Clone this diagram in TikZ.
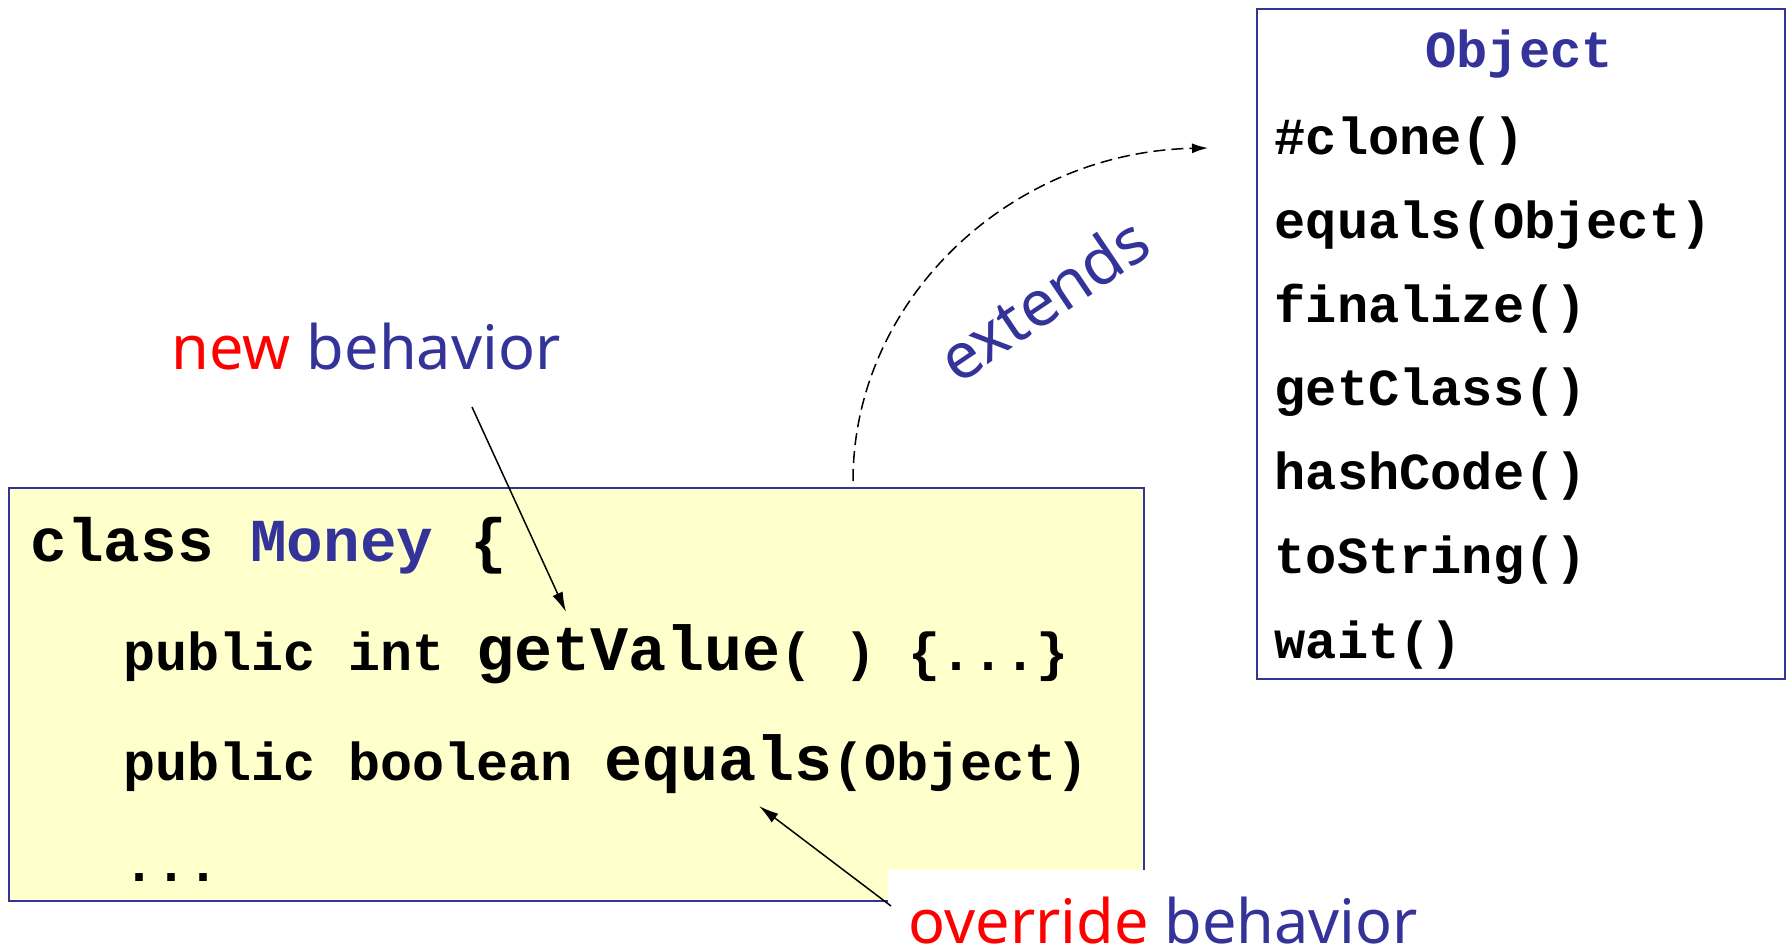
\documentclass[tikz,border=0pt]{standalone}
\usepackage{fontspec}
\setmainfont{Noto Sans}
\setmonofont{Liberation Mono}
\usetikzlibrary{arrows.meta}
\definecolor{slateblue}{RGB}{51,51,153}
\definecolor{paleyellow}{RGB}{255,255,204}

\begin{document}
\begin{tikzpicture}[x=0.5pt,y=-0.5pt,>={Latex[length=10pt,width=5.5pt]},line width=0.75pt,
    classbox/.style={draw=slateblue,line width=1pt,anchor=north west,inner sep=0pt},
    code/.style={anchor=base west,inner sep=0pt,font=\ttfamily\bfseries\fontsize{26.7}{30}\selectfont},
    member/.style={anchor=base west,inner sep=0pt,font=\ttfamily\bfseries\fontsize{26}{30}\selectfont},
    note/.style={inner sep=0pt,font=\fontsize{30.6}{34}\selectfont}]
  \useasboundingbox (0,0) rectangle (1787,951);

  % class Money
  \node[classbox,fill=paleyellow,minimum width=567.5pt,minimum height=206.5pt] (money) at (8,487) {};
  \node[code,font=\ttfamily\bfseries\fontsize{30.5}{34}\selectfont] (head) at (30,561) {class \textcolor{slateblue}{Money} \{};
  \node[code] (getval) at (123,670) {public int {\fontsize{31.7}{34}\selectfont getValue}( ) \{...\}};
  \node[code] (equals) at (123,780) {public boolean {\fontsize{31.7}{34}\selectfont equals}(Object)};
  \node[code] (dots) at (123,881) {...};

  % class Object
  \node[classbox,minimum width=264pt,minimum height=335pt] (object) at (1256,8) {};
  \node[member,anchor=base,text=slateblue] (title) at (1519,68) {Object};
  \node[member] (1) at (1274,155) {\#clone()};
  \node[member] (2) at (1274,239) {equals(Object)};
  \node[member] (3) at (1274,323) {finalize()};
  \node[member] (4) at (1274,406) {getClass()};
  \node[member] (5) at (1274,490) {hashCode()};
  \node[member] (6) at (1274,574) {toString()};
  \node[member] (7) at (1274,658) {wait()};

  % labels
  \node[note,anchor=base west] (newlbl) at (171,370) {\textcolor{red}{new} \textcolor{slateblue}{behavior}};
  \node[note,anchor=base west,fill=white,inner xsep=10.5pt,text height=36.5pt,text depth=0pt] (overlbl) at (887,943)
    {\textcolor{red}{override} \textcolor{slateblue}{behavior}};
  \node[note,text=slateblue,font=\fontsize{32}{34}\selectfont,rotate=34] (extlbl) at (1043,299) {extends};

  \coordinate (newtail) at (472,407);
  \coordinate (newtip) at (566,612);
  \coordinate (overtail) at (891,906);
  \coordinate (overtip) at (759,806);
  \coordinate (exttail) at (853,481);
  \coordinate (exttip) at (1208,148);

  \draw[->] (newtail) -- (newtip);
  \draw[->] (overtail) -- (overtip);
  \draw[->,dash pattern=on 6pt off 3pt,>={Latex[length=8pt,width=5pt]}]
    (exttail) .. controls (853,300) and (1010,152) .. (exttip);
\end{tikzpicture}
\end{document}
